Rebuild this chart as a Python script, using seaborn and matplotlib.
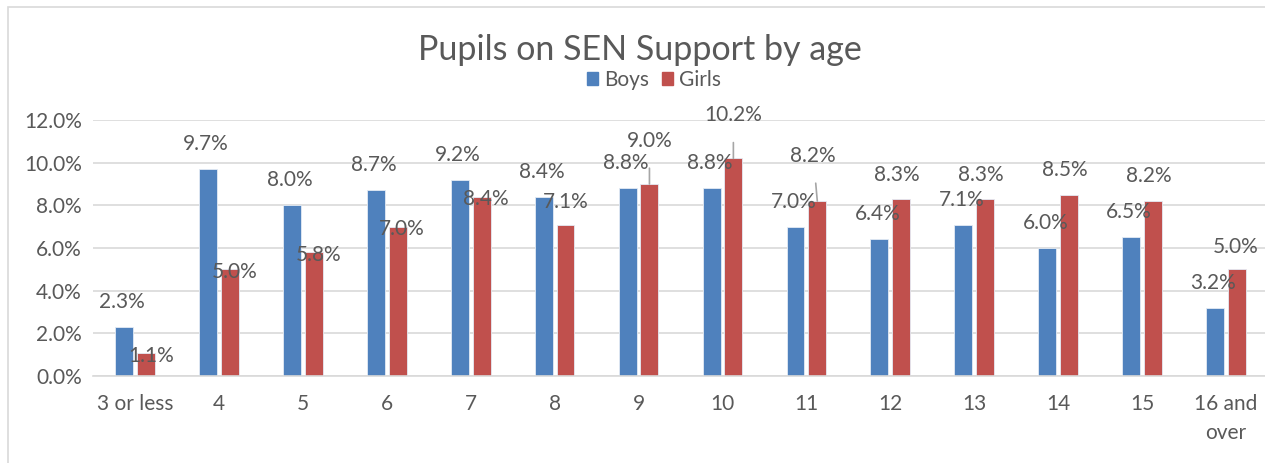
import pandas as pd
import matplotlib
matplotlib.use("Agg")
import matplotlib.pyplot as plt
import seaborn as sns
from matplotlib.patches import Rectangle

# data
ages = ["3 or less", "4", "5", "6", "7", "8", "9", "10", "11", "12", "13", "14", "15", "16 and\nover"]
boys = [2.3, 9.7, 8.0, 8.7, 9.2, 8.4, 8.8, 8.8, 7.0, 6.4, 7.1, 6.0, 6.5, 3.2]
girls = [1.1, 5.0, 5.8, 7.0, 8.4, 7.1, 9.0, 10.2, 8.2, 8.3, 8.3, 8.5, 8.2, 5.0]
yticks = [0, 2, 4, 6, 8, 10, 12]

# label placement (pixels from bar top), girls labels were moved around in excel
girls_dx = [5, 5, 5, 4, 4, 0, 0, 0, -4, -4, -4, -4, -4, -1]
girls_dy = [-3, -3, -3, -2, -2, 23, 43, 43, 45, 24, 24, 25, 25, 22]
leader = [False, False, False, False, False, False, True, True, True, False, False, False, False, False]

df = pd.DataFrame({
    "age": ages * 2,
    "pct": boys + girls,
    "sex": ["Boys"] * len(ages) + ["Girls"] * len(ages),
})

sns.set_style("white")
plt.rcParams["font.family"] = ["Lato", "DejaVu Sans"]
grey = "#595959"
fs = 15

fig = plt.figure(figsize=(12.65, 4.63), dpi=100)
fig.patches.append(Rectangle((8 / 1265, -0.01), 1.2, 1 - 7 / 463 + 0.01, transform=fig.transFigure,
                             fill=False, edgecolor="#d9d9d9", linewidth=1.2))
ax = fig.add_axes([93 / 1265, 87 / 463, 1175 / 1265, 256 / 463])

sns.barplot(data=df, x="age", y="pct", hue="sex", palette=["#4f81bd", "#c0504d"], saturation=1,
            width=0.52, gap=0.18, edgecolor="#e4ebf4", linewidth=0.6, ax=ax, legend=False)

ax.set_ylim(0, 12)
ax.set_yticks(yticks)
ax.set_yticklabels([f"{v:.1f}%" for v in yticks], color=grey, fontsize=fs)
ax.tick_params(axis="x", colors=grey, labelsize=fs, length=0, pad=13)
ax.tick_params(axis="y", length=0, pad=8)
for t in ax.get_xticklabels():
    t.set_linespacing(1.55)
ax.set_xlabel("")
ax.set_ylabel("")
ax.grid(axis="y", color="#d9d9d9", linewidth=1.2)
ax.set_axisbelow(True)
for s in ["top", "right", "left"]:
    ax.spines[s].set_visible(False)
ax.spines["bottom"].set_color("#d9d9d9")
ax.spines["bottom"].set_linewidth(1.2)

# data labels
for bar, v in zip(ax.containers[0], boys):
    x = bar.get_x() + bar.get_width() / 2
    ax.annotate(f"{v:.1f}%", (x, v), xytext=(-2, 25), textcoords="offset pixels",
                ha="center", va="center", fontsize=fs, color=grey)
for i, (bar, v) in enumerate(zip(ax.containers[1], girls)):
    x = bar.get_x() + bar.get_width() / 2
    props = dict(arrowstyle="-", color="#a6a6a6", lw=1.2, shrinkA=10, shrinkB=0) if leader[i] else None
    ax.annotate(f"{v:.1f}%", (x, v), xytext=(girls_dx[i], girls_dy[i]), textcoords="offset pixels",
                ha="center", va="center", fontsize=fs, color=grey, arrowprops=props)

fig.text(0.506, 1 - 50 / 463, "Pupils on SEN Support by age", ha="center", va="center",
         fontsize=24.5, color=grey)
handles = [Rectangle((0, 0), 1, 1, color="#4f81bd"), Rectangle((0, 0), 1, 1, color="#c0504d")]
fig.legend(handles, ["Boys", "Girls"], loc="center", bbox_to_anchor=(0.517, 1 - 80 / 463), ncol=2,
           frameon=False, fontsize=fs, handlelength=0.55, handleheight=0.55, handletextpad=0.3,
           columnspacing=0.6, labelcolor=grey)

fig.savefig("out.png", dpi=100)
